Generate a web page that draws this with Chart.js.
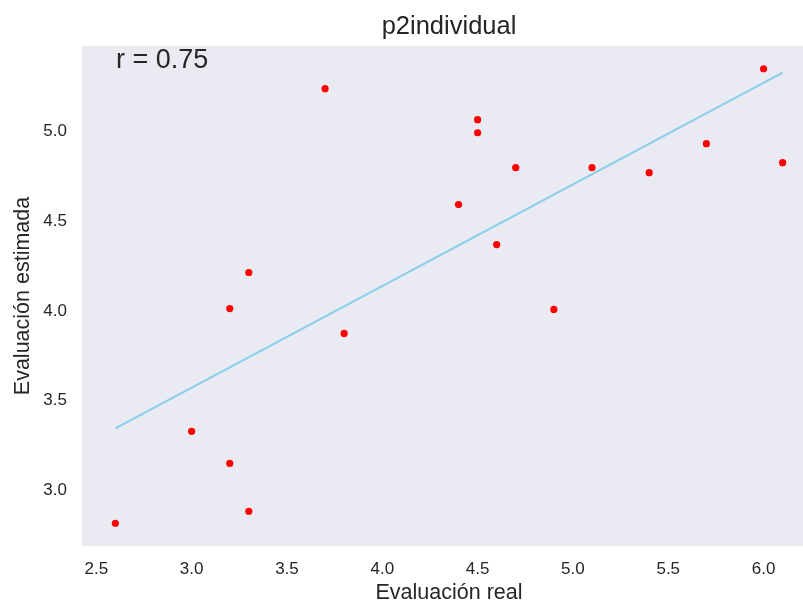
<!DOCTYPE html>
<html lang="es">
<head>
<meta charset="UTF-8" />
<title>p2individual</title>
<script src="https://cdn.jsdelivr.net/npm/chart.js"></script>
<style>
  html, body { margin: 0; padding: 0; background: #fff; overflow: hidden; }
  #chart { display: block; }
</style>
</head>
<body>
<canvas id="chart" width="820" height="602"></canvas>
<script>
  // values
  const evalReal = [2.6, 3.0, 3.2, 3.2, 3.3, 3.3, 3.7, 3.8, 4.4, 4.5, 4.5, 4.6, 4.7, 4.9, 5.1, 5.4, 5.7, 6.0, 6.1];
  const evalEstimada = [2.815, 3.328, 3.149, 4.013, 4.214, 2.882, 5.240, 3.874, 4.593, 5.067, 4.994, 4.370, 4.799, 4.008, 4.799, 4.771, 4.933, 5.351, 4.827];
  // fitted line ends
  const fitX = [2.6, 6.1];
  const fitY = [3.344, 5.329];
  const rText = 'r = 0.75';

  const FONT = '"Liberation Sans", Arial, sans-serif';
  const TEXT = '#262626';

  // grey plot background + the r annotation
  const plotBg = {
    id: 'plotBg',
    beforeDraw(chart) {
      const { ctx, chartArea: a } = chart;
      ctx.save();
      ctx.fillStyle = '#EAEAF2';
      ctx.fillRect(a.left, a.top, a.right - a.left, a.bottom - a.top);
      ctx.restore();
    },
    afterDraw(chart) {
      const { ctx, chartArea: a } = chart;
      ctx.save();
      ctx.font = '27px ' + FONT;
      ctx.fillStyle = TEXT;
      ctx.textBaseline = 'alphabetic';
      ctx.fillText(rText, a.left + 34, a.top + 22.3);
      ctx.restore();
    }
  };

  new Chart(document.getElementById('chart'), {
    type: 'scatter',
    data: {
      datasets: [
        {
          data: evalReal.map((x, i) => ({ x, y: evalEstimada[i] })),
          backgroundColor: '#FF0000',
          borderWidth: 0,
          pointRadius: 3.6
        },
        {
          type: 'line',
          data: fitX.map((x, i) => ({ x, y: fitY[i] })),
          borderColor: '#87CEEB',
          borderWidth: 2,
          pointRadius: 0,
          fill: false
        }
      ]
    },
    options: {
      responsive: false,
      animation: false,
      layout: { padding: 0 },
      plugins: {
        legend: { display: false },
        tooltip: { enabled: false },
        title: {
          display: true,
          text: 'p2individual',
          fullSize: false,
          color: TEXT,
          font: { family: FONT, size: 25.5, weight: 'normal', lineHeight: 1.2 },
          padding: { top: 11.4, bottom: 4 }
        }
      },
      scales: {
        x: {
          type: 'linear',
          min: 2.425,
          max: 6.275,
          grid: { display: false, drawTicks: false },
          border: { display: false },
          ticks: {
            stepSize: 0.5,
            includeBounds: false,
            padding: 13,
            color: TEXT,
            font: { family: FONT, size: 17 },
            callback: v => v.toFixed(1)
          },
          title: {
            display: true,
            text: 'Evaluación real',
            color: TEXT,
            font: { family: FONT, size: 21.5, lineHeight: 1 },
            padding: { top: 0, bottom: -2.3 }
          },
          afterFit: s => { s.height = 56; }
        },
        y: {
          type: 'linear',
          min: 2.688,
          max: 5.478,
          grid: { display: false, drawTicks: false },
          border: { display: false },
          ticks: {
            stepSize: 0.5,
            includeBounds: false,
            padding: 15,
            color: TEXT,
            font: { family: FONT, size: 17 },
            callback: v => v.toFixed(1)
          },
          title: {
            display: true,
            text: 'Evaluación estimada',
            color: TEXT,
            font: { family: FONT, size: 21.5, lineHeight: 1.2 },
            padding: { top: 10.6, bottom: 0 }
          },
          afterFit: s => { s.width = 82; }
        }
      }
    },
    plugins: [plotBg]
  });
</script>
</body>
</html>
